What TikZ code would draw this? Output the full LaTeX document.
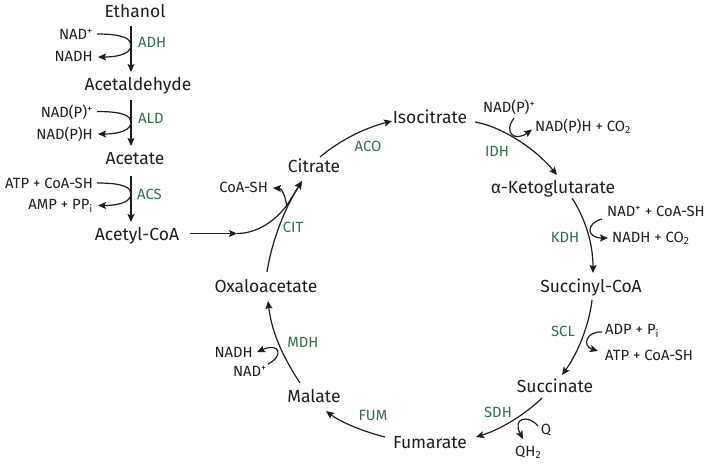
\documentclass[tikz,border=0pt]{standalone}
\usepackage{fontspec}
\setmainfont{Fira Sans}
\usetikzlibrary{arrows.meta}
\definecolor{enz}{RGB}{47,111,75}
\definecolor{ink}{RGB}{30,30,30}
\begin{document}
\begin{tikzpicture}[x=1pt,y=-1pt,
  met/.style={font=\fontsize{17.5}{20}\selectfont, text=ink, inner sep=0pt, anchor=base},
  side/.style={font=\fontsize{14.8}{17}\selectfont, text=ink, inner sep=0pt},
  enzl/.style={font=\fontsize{14.8}{17}\selectfont, text=enz, inner sep=0pt, anchor=base},
  rxn/.style={draw=ink, line width=1.2pt, -{Stealth[length=8pt,width=7pt,inset=1.5pt]}},
  plain/.style={draw=ink, line width=1.2pt}]
\useasboundingbox (0,0) rectangle (708,465);
% metabolites
\node[met] (eth) at (135,17.5) {Ethanol};
\node[met] (acd) at (138,90.5) {Acetaldehyde};
\node[met] (ace) at (135,164.5) {Acetate};
\node[met] (acc) at (137,240.5) {Acetyl-CoA};
\node[met] (cit) at (314,172.5) {Citrate};
\node[met] (iso) at (430,123.5) {Isocitrate};
\node[met] (akg) at (553,193.5) {α-Ketoglutarate};
\node[met] (suc) at (591,292.5) {Succinyl-CoA};
\node[met] (sct) at (555,392.5) {Succinate};
\node[met] (fum) at (430,448.5) {Fumarate};
\node[met] (mal) at (314,402.5) {Malate};
\node[met] (oxa) at (266,292.5) {Oxaloacetate};
% enzymes
\node[enzl, anchor=base west] (adh) at (138,47.5) {ADH};
\node[enzl, anchor=base west] (ald) at (138,123.5) {ALD};
\node[enzl, anchor=base west] (acs) at (137,199.5) {ACS};
\node[enzl] (citz) at (293,232.5) {CIT};
\node[enzl] (aco) at (368,151.5) {ACO};
\node[enzl] (idh) at (497,156.5) {IDH};
\node[enzl] (kdh) at (565,242.5) {KDH};
\node[enzl] (scl) at (563,336.5) {SCL};
\node[enzl] (sdh) at (498,417.5) {SDH};
\node[enzl] (fumz) at (373,420.5) {FUM};
\node[enzl] (mdh) at (303,347.5) {MDH};
% cofactors
\node[side, anchor=base east] (s1a) at (93,39.5) {NAD\textsuperscript{+}};
\node[side, anchor=base east] (s1b) at (93,61.5) {NADH};
\node[side, anchor=base east] (s2a) at (93,117.5) {NAD(P)\textsuperscript{+}};
\node[side, anchor=base east] (s2b) at (93,139.5) {NAD(P)H};
\node[side, anchor=base east] (s3a) at (93,188.5) {ATP + CoA-SH};
\node[side, anchor=base east] (s3b) at (93,209.5) {AMP + PP\textsubscript{i}};
\node[side, anchor=base east] (s4) at (268,192.5) {CoA-SH};
\node[side, anchor=base west] (s5a) at (483,112.5) {NAD(P)\textsuperscript{+}};
\node[side, anchor=base west] (s5b) at (535,131.5) {NAD(P)H + CO\textsubscript{2}};
\node[side, anchor=base west] (s6a) at (607,216.5) {NAD\textsuperscript{+} + CoA-SH};
\node[side, anchor=base west] (s6b) at (612,242.5) {NADH + CO\textsubscript{2}};
\node[side, anchor=base west] (s7a) at (605,334.5) {ADP + P\textsubscript{i}};
\node[side, anchor=base west] (s7b) at (605,360.5) {ATP + CoA-SH};
\node[side, anchor=base] (s8a) at (546,434.5) {Q};
\node[side, anchor=base west] (s8b) at (515,456.5) {QH\textsubscript{2}};
\node[side, anchor=base east] (s9b) at (253,357.5) {NADH};
\node[side, anchor=base east] (s9a) at (267,376.5) {NAD\textsuperscript{+}};
% linear pathway
\coordinate (e1) at (131,26); \coordinate (e2) at (131,72);
\coordinate (a1) at (131,100); \coordinate (a2) at (131,146);
\coordinate (c1) at (131,176); \coordinate (c2) at (131,222);
\draw[rxn] (e1) -- (e2);
\draw[rxn] (a1) -- (a2);
\draw[rxn] (c1) -- (c2);
\draw[rxn] (97,34) .. controls (124,34) and (131,39) .. (131,45.5) .. controls (131,52) and (122,57) .. (98,57);
\draw[rxn] (97,111.5) .. controls (124,111.5) and (131,116) .. (131,122.5) .. controls (131,129) and (122,134) .. (98,134);
\draw[rxn] (97,183) .. controls (124,183) and (131,187.5) .. (131,194) .. controls (131,200.5) and (122,205.5) .. (98,205.5);
% acetyl-CoA into cycle
\coordinate (j0) at (190,233.5);
\coordinate (j1) at (237,233.5);
\coordinate (citin) at (302,181);
\draw[plain] (j1) .. controls (262,233.5) and (283,214) .. (292,197);
\draw[rxn] (291,199) -- (citin);
\draw[rxn] (j0) -- (j1);
\draw[rxn] (267,272) .. controls (272,240) and (285,208) .. (citin);
\draw[rxn] (287,207) .. controls (285,195) and (282,188.5) .. (273,188);
% cycle
\draw[rxn] (320,157) .. controls (340,140) and (365,128) .. (392,121);
\draw[rxn] (475,122) .. controls (500,126) and (535,148) .. (557,175);
\draw[rxn] (514,118) .. controls (503,133) and (515,142) .. (532,129.5);
\draw[rxn] (572,198) .. controls (583,215) and (593,240) .. (593,273);
\draw[rxn] (602,219) .. controls (586,223) and (586,238) .. (608,238);
\draw[rxn] (592,300) .. controls (590,320) and (580,350) .. (562,375);
\draw[rxn] (602,332) .. controls (586,331) and (582,346) .. (598,351);
\draw[rxn] (542,398) .. controls (530,410) and (505,428) .. (476,437);
\draw[rxn] (538,426) .. controls (528,414) and (512,418) .. (523,439);
\draw[rxn] (385,437) .. controls (365,432) and (342,423) .. (326,411);
\draw[rxn] (300,383) .. controls (285,360) and (272,335) .. (268,301);
\draw[rxn] (268,364) .. controls (284,356) and (280,342) .. (257,352);
\end{tikzpicture}
\end{document}
